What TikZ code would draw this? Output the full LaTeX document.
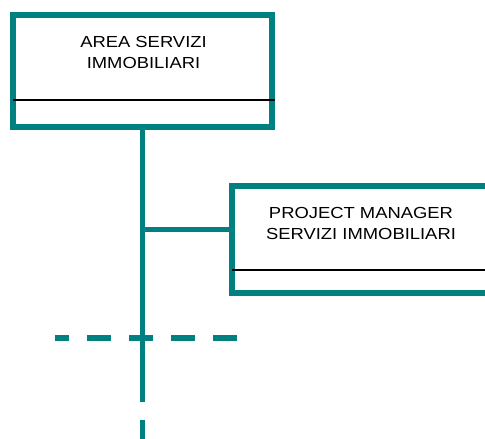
\documentclass[tikz,border=0pt]{standalone}
\usepackage{fontspec}
\newfontfamily\orgfont{Liberation Sans}[FakeStretch=1.15]
\usepackage{tikz}
\usetikzlibrary{calc}

\definecolor{orgteal}{RGB}{0,128,128}

\tikzset{
  orgbox/.style={draw=orgteal, line width=6, fill=white, rectangle, inner sep=0},
  orglabel/.style={inner sep=0, align=center, font=\orgfont\fontsize{16}{21}\selectfont},
  divider/.style={black, line width=1.3},
  link/.style={orgteal, line width=5.5},
  dashlink/.style={orgteal, line width=5.5, dash pattern=on 24.5 off 17.5}
}

\begin{document}
\begin{tikzpicture}[x=1pt, y=-1pt]
\clip (0,0) rectangle (485,439);

% boxes
\node[orgbox, minimum width=259, minimum height=112] (area) at (142.5,71) {};
\node[orglabel] (arealabel) at (143.5,52) {AREA SERVIZI\\IMMOBILIARI};
\draw[divider] ($(area.west)+(3,29)$) -- ($(area.east)+(0,29)$);

\node[orgbox, minimum width=268, minimum height=107] (pm) at (366,239.5) {};
\node[orglabel] (pmlabel) at (361,223) {PROJECT MANAGER\\SERVIZI IMMOBILIARI};
\draw[divider] ($(pm.west)+(3,30.5)$) -- ($(pm.east)+(0,30.5)$);

% connectors
\coordinate (branch) at (142.5,229.5);
\coordinate (trunkend) at (142.5,402);
\coordinate (tailtop) at (142.5,420);
\coordinate (tailend) at (142.5,442);
\coordinate (dashright) at (237,338);
\coordinate (dashleft) at (55,338);

\draw[link] (area.south) -- (trunkend);
\draw[link] (tailtop) -- (tailend);
\draw[link] (branch) -- (branch -| pm.west);
\draw[dashlink] (dashright) -- (dashleft);
\end{tikzpicture}
\end{document}
